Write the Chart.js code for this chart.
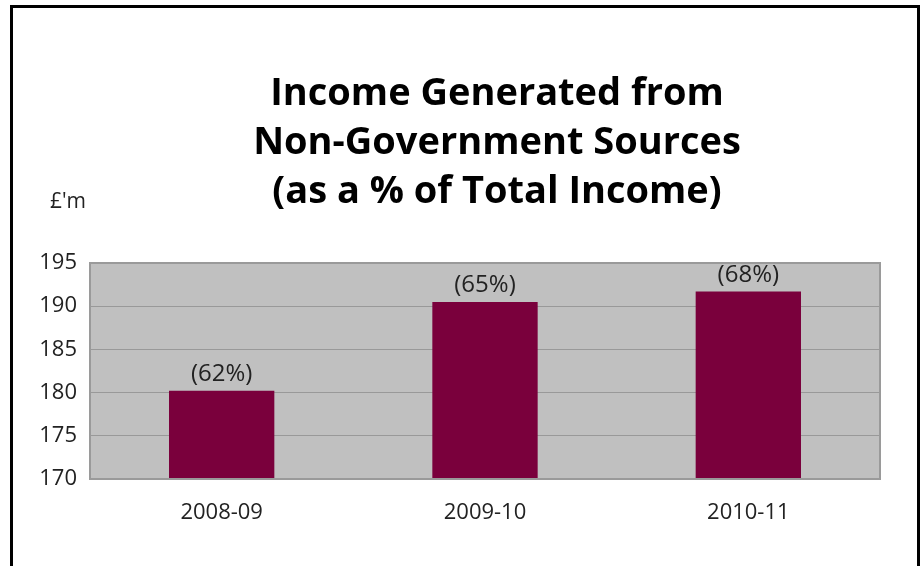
<!DOCTYPE html>
<html>
<head>
<meta charset="utf-8">
<script src="https://cdn.jsdelivr.net/npm/chart.js@4/dist/chart.umd.min.js"></script>
<style>
  html, body { margin: 0; padding: 0; background: #fff; }
  #wrap { position: relative; width: 924px; height: 566px; }
  #frame {
    position: absolute; left: 10px; top: 5px; width: 904px; height: 600px;
    border: 3px solid #000; border-bottom: none; pointer-events: none;
  }
</style>
</head>
<body>
<div id="wrap">
  <canvas id="incomeChart" width="924" height="566"></canvas>
  <div id="frame"></div>
</div>
<script>
// chart data
const years = ['2008-09', '2009-10', '2010-11'];
const incomeValues = [180.2, 190.5, 191.7];
const shareLabels = ['(62%)', '(65%)', '(68%)'];
const titleLines = ['Income Generated from', 'Non-Government Sources', '(as a % of Total Income)'];
const yMin = 170;
const yMax = 195;
const yStep = 5;
const unitLabel = "£'m";

const FONT = "'Open Sans', 'Noto Sans', sans-serif";

// grey plot background plus the heading text
const backdrop = {
    id: 'backdrop',
    beforeDraw(chart) {
        const { ctx, chartArea } = chart;
        ctx.save();
        ctx.fillStyle = '#c0c0c0';
        ctx.fillRect(chartArea.left, chartArea.top, chartArea.right - chartArea.left, chartArea.bottom - chartArea.top);
        ctx.restore();
    },
    afterDraw(chart) {
        const { ctx, chartArea } = chart;
        ctx.save();
        ctx.fillStyle = '#000';
        ctx.textAlign = 'center';
        ctx.textBaseline = 'alphabetic';
        ctx.font = 'bold 38px ' + FONT;
        titleLines.forEach((line, i) => {
            ctx.fillText(line, 497, 105 + i * 49);
        });
        ctx.font = '21px ' + FONT;
        ctx.fillStyle = '#222';
        ctx.textAlign = 'left';
        ctx.fillText(unitLabel, 50, 208);

        // plot frame
        ctx.strokeStyle = '#9a9a9a';
        ctx.lineWidth = 2;
        ctx.strokeRect(chartArea.left, chartArea.top, chartArea.right - chartArea.left, chartArea.bottom - chartArea.top);
        ctx.restore();
    }
};

// percentage labels above each bar
const shareLabelPlugin = {
    id: 'shareLabels',
    afterDatasetsDraw(chart) {
        const { ctx } = chart;
        const meta = chart.getDatasetMeta(0);
        ctx.save();
        ctx.font = '24px ' + FONT;
        ctx.fillStyle = '#222';
        ctx.textAlign = 'center';
        ctx.textBaseline = 'alphabetic';
        meta.data.forEach((bar, i) => {
            ctx.fillText(shareLabels[i], bar.x, bar.y - 10);
        });
        ctx.restore();
    }
};

new Chart(document.getElementById('incomeChart').getContext('2d'), {
    type: 'bar',
    data: {
        labels: years,
        datasets: [{
            data: incomeValues,
            backgroundColor: '#7a003c',
            borderWidth: 0,
            categoryPercentage: 1,
            barPercentage: 0.4
        }]
    },
    options: {
        responsive: false,
        animation: false,
        layout: { padding: { top: 263, right: 44, left: 0, bottom: 0 } },
        plugins: {
            legend: { display: false },
            tooltip: { enabled: false },
            title: { display: false }
        },
        scales: {
            x: {
                afterFit(scale) { scale.height = 87; },
                grid: { display: false, drawTicks: false },
                border: { display: false },
                ticks: {
                    padding: 21,
                    color: '#222',
                    font: { family: FONT, size: 22 }
                }
            },
            y: {
                min: yMin,
                max: yMax,
                afterFit(scale) { scale.width = 90; },
                grid: { color: '#999', lineWidth: 1, drawTicks: false },
                border: { display: false },
                ticks: {
                    stepSize: yStep,
                    padding: 13,
                    color: '#222',
                    font: { family: FONT, size: 22 }
                }
            }
        }
    },
    plugins: [backdrop, shareLabelPlugin]
});
</script>
</body>
</html>
